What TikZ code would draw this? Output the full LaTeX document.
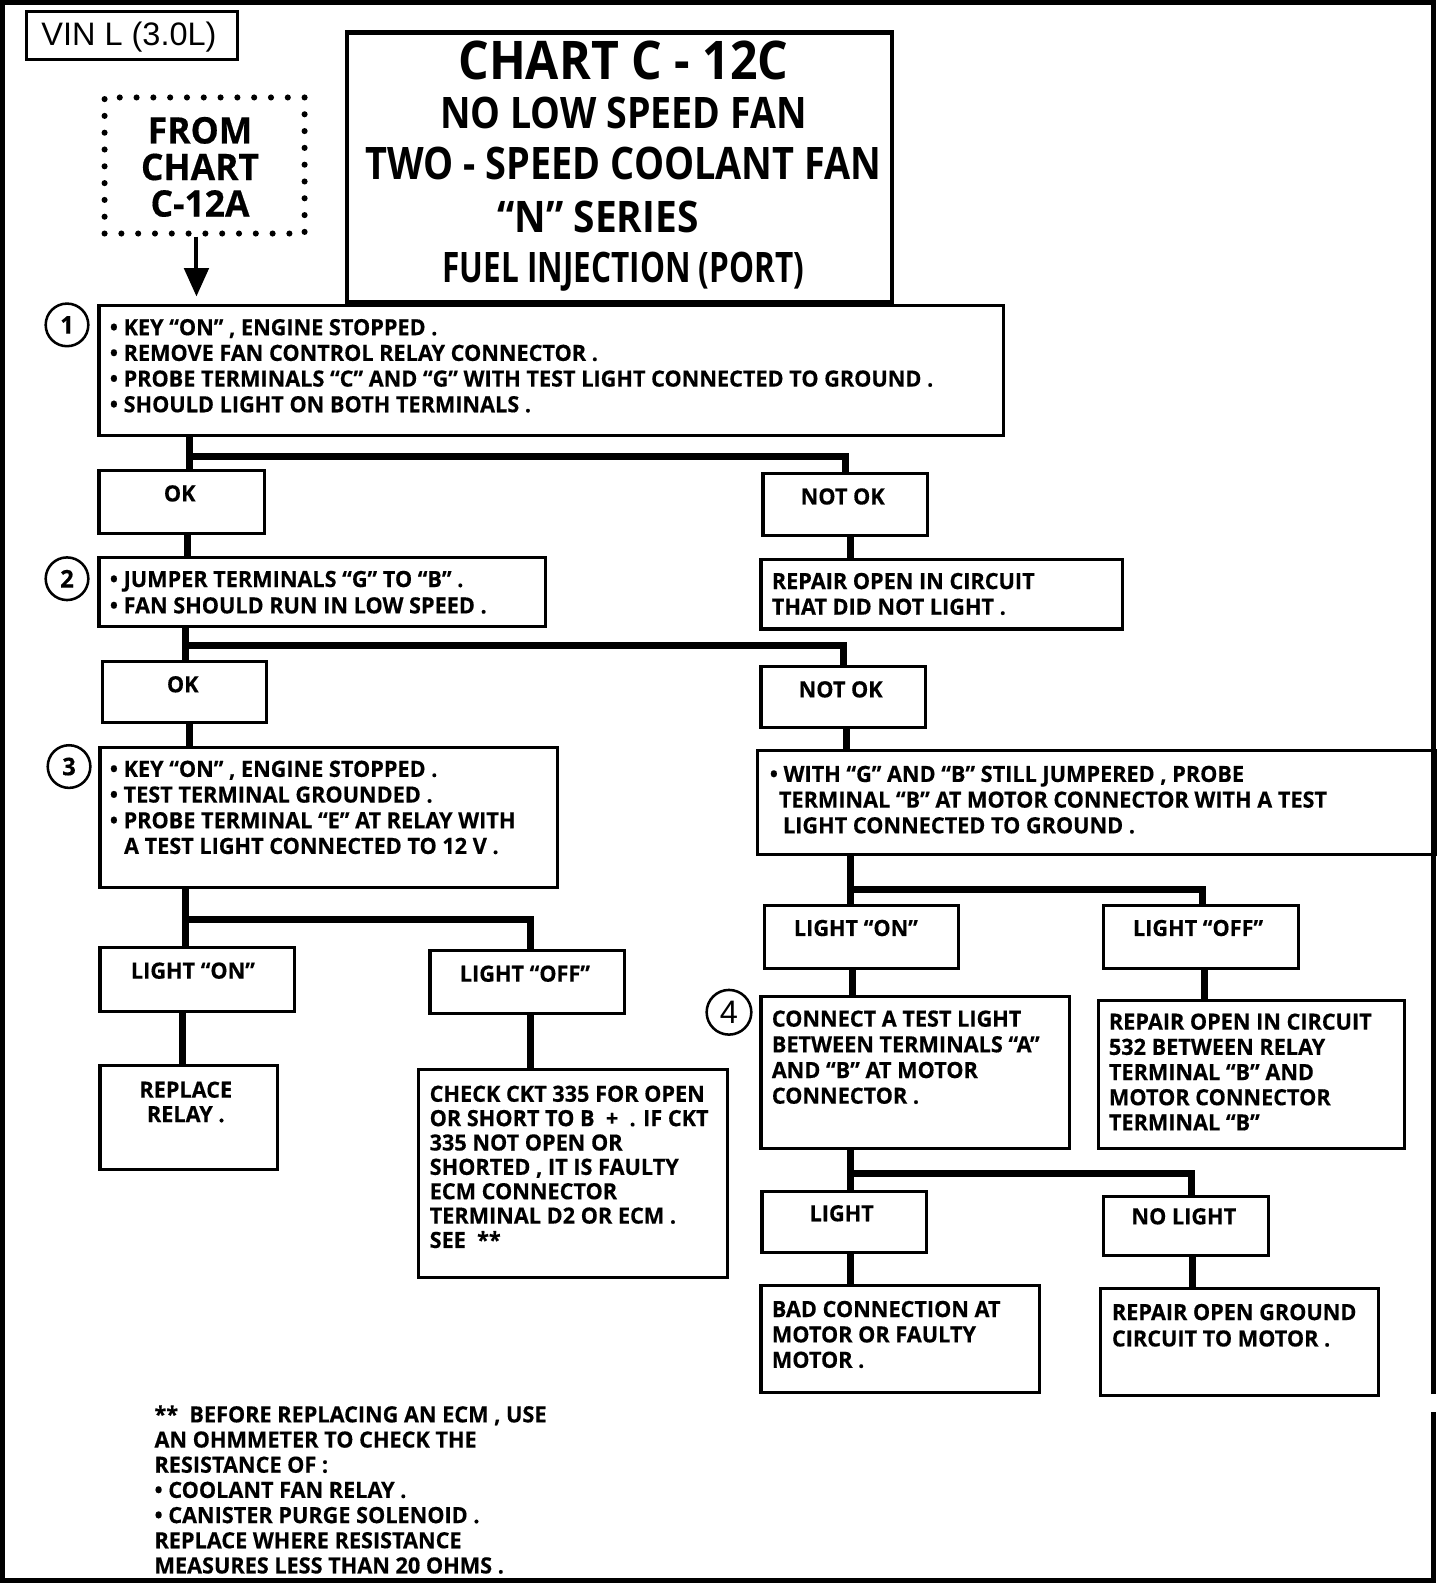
\documentclass[tikz,border=0pt]{standalone}
\usepackage{fontspec}
\setmainfont{Open Sans}
\newfontfamily\bxf{Open Sans}[FakeStretch=0.97,BoldFeatures={FakeBold=0.4}]
\newfontfamily\ttlf{Open Sans}
\newfontfamily\vinf{Liberation Sans}
\usetikzlibrary{calc,arrows.meta}
\newcommand\mybox[6][]{\node[box,#1,minimum width={#5-#3},minimum height={#6-#4}] (#2) at (#3,#4) {};}
\begin{document}
\begin{tikzpicture}[x=1pt,y=-1pt,
 box/.style={draw,line width=3pt,inner sep=0pt,anchor=north west},
 conn/.style={line width=7pt,line join=miter},
 txt/.style={inner sep=0pt,anchor=north west,align=left,font=\bxf\bfseries\fontsize{22}{25.3}\selectfont},
 lbl/.style={inner sep=0pt,font=\bxf\bfseries\fontsize{22}{25}\selectfont},
 circ/.style={draw,circle,line width=2.5pt,minimum size=42pt,inner sep=0pt,font=\bxf\bfseries\fontsize{24}{24}\selectfont},
 ttl/.style={inner sep=0pt,anchor=base,font=\ttlf\bfseries}]
\useasboundingbox (0,0) rectangle (1434,1568);
% outer frame
\draw[line width=5pt,line join=miter] (1412,1373) -- (1412,2) -- (2,2) -- (2,1557) -- (1412,1557) -- (1412,1391);

% VIN box
\mybox{vin}{25}{10}{232}{57}
\node[inner sep=0pt,anchor=base,font=\vinf\fontsize{32}{32}\selectfont] (vint) at (127,45) {VIN L (3.0L)};

% FROM box
\node[draw,line width=6pt,dash pattern=on 0pt off 16.55pt,line cap=round,inner sep=0pt,
      minimum width=197pt,minimum height=134pt,anchor=north west] (from) at (100,93) {};
\node[inner sep=0pt,anchor=north,align=center,font=\bxf\bfseries\fontsize{36}{36}\selectfont] (fromt) at (197,115) {FROM\\CHART\\C-12A};

% title box
\mybox[line width=4pt]{title}{340}{30}{877}{295}
\node[ttl] (tl1) at (614,78) {\resizebox{325pt}{38pt}{CHART C - 12C}};
\node[ttl] (tl2) at (614,127) {\resizebox{361pt}{31pt}{NO LOW SPEED FAN}};
\node[ttl] (tl3) at (614,177) {\resizebox{508pt}{32pt}{TWO - SPEED COOLANT FAN}};
\node[ttl] (tl4) at (589,229) {\resizebox{198pt}{31pt}{“N” SERIES}};
\node[ttl] (tl5) at (614,278) {\resizebox{356pt}{30pt}{FUEL INJECTION (PORT)}};

% boxes
\mybox{b1}{96}{299}{987}{427}
\mybox{ok1}{96}{462}{259}{524}
\mybox{nok1}{750}{465}{912}{526}
\mybox{b2}{96}{548}{536}{616}
\mybox{rep1}{748}{550}{1104}{618}
\mybox{ok2}{99}{650}{261}{710}
\mybox{nok2}{748}{655}{910}{715}
\mybox{b3}{97}{735}{548}{873}
\mybox{bR}{745}{738}{1412}{840}
\mybox{lon1}{97}{932}{289}{995}
\mybox{loff1}{422}{935}{614}{997}
\mybox{relay}{97}{1048}{272}{1150}
\mybox{ckt}{411}{1052}{715}{1257}
\mybox{lon2}{751}{890}{943}{952}
\mybox{loff2}{1085}{890}{1277}{952}
\mybox{con4}{748}{980}{1052}{1130}
\mybox{rep532}{1080}{984}{1382}{1130}
\mybox{light}{749}{1172}{911}{1232}
\mybox{nolight}{1085}{1177}{1248}{1235}
\mybox{bad}{748}{1265}{1022}{1370}
\mybox{repg}{1082}{1268}{1356}{1373}

% step circles
\node[circ] (c1) at (66,320) {1};
\node[circ] (c2) at (66,570) {2};
\node[circ] (c3) at (68,755) {3};
\node[circ,minimum size=44pt,font=\vinf\fontsize{32}{32}\selectfont] (c4) at (718,997) {4};

% arrow from FROM box
\coordinate (ah) at ($(from.south)+(-8,0)$);
\draw[line width=4pt,-{Triangle[length=28pt,width=24pt]}] (ah) -- ($(ah |- b1.north)+(0,-7)$);

% texts
\node[txt] (b1t) at (108,314) {• KEY “ON” , ENGINE STOPPED .\\• REMOVE FAN CONTROL RELAY CONNECTOR .\\• PROBE TERMINALS “C” AND “G” WITH TEST LIGHT CONNECTED TO GROUND .\\• SHOULD LIGHT ON BOTH TERMINALS .};
\node[lbl] (ok1t) at (177,486) {OK};
\node[lbl] (nok1t) at (830,489) {NOT OK};
\node[txt,font=\bxf\bfseries\fontsize{22}{26}\selectfont] (b2t) at (108,562) {• JUMPER TERMINALS “G” TO “B” .\\• FAN SHOULD RUN IN LOW SPEED .};
\node[txt] (rep1t) at (760,564) {REPAIR OPEN IN CIRCUIT\\THAT DID NOT LIGHT .};
\node[lbl] (ok2t) at (180,674) {OK};
\node[lbl] (nok2t) at (828,679) {NOT OK};
\node[txt] (b3t) at (108,749) {• KEY “ON” , ENGINE STOPPED .\\• TEST TERMINAL GROUNDED .\\• PROBE TERMINAL “E” AT RELAY WITH\\\hspace*{14pt}A TEST LIGHT CONNECTED TO 12 V .};
\node[txt] (bRt) at (758,754) {• WITH “G” AND “B” STILL JUMPERED , PROBE\\\hspace*{9pt}TERMINAL “B” AT MOTOR CONNECTOR WITH A TEST\\\hspace*{13pt}LIGHT CONNECTED TO GROUND .};
\node[lbl] (lon1t) at (190,956) {LIGHT “ON”};
\node[lbl] (loff1t) at (517,959) {LIGHT “OFF”};
\node[txt,anchor=north,align=center,font=\bxf\bfseries\fontsize{22}{24}\selectfont] (relayt) at (183,1065) {REPLACE\\RELAY .};
\node[txt,font=\bxf\bfseries\fontsize{22}{24}\selectfont] (cktt) at (423,1069) {CHECK CKT 335 FOR OPEN\\OR SHORT TO B\ \ +\ \ . IF CKT\\335 NOT OPEN OR\\SHORTED , IT IS FAULTY\\ECM CONNECTOR\\TERMINAL D2 OR ECM .\\SEE\ \ **};
\node[lbl] (lon2t) at (843,914) {LIGHT “ON”};
\node[lbl] (loff2t) at (1180,914) {LIGHT “OFF”};
\node[txt] (con4t) at (760,995) {CONNECT A TEST LIGHT\\BETWEEN TERMINALS “A”\\AND “B” AT MOTOR\\CONNECTOR .};
\node[txt,font=\bxf\bfseries\fontsize{22}{24.8}\selectfont] (rep532t) at (1092,998) {REPAIR OPEN IN CIRCUIT\\532 BETWEEN RELAY\\TERMINAL “B” AND\\MOTOR CONNECTOR\\TERMINAL “B”};
\node[lbl] (lightt) at (829,1195) {LIGHT};
\node[lbl] (nolightt) at (1166,1198) {NO LIGHT};
\node[txt,font=\bxf\bfseries\fontsize{22}{25}\selectfont] (badt) at (760,1281) {BAD CONNECTION AT\\MOTOR OR FAULTY\\MOTOR .};
\node[txt,font=\bxf\bfseries\fontsize{22}{26}\selectfont] (repgt) at (1095,1284) {REPAIR OPEN GROUND\\CIRCUIT TO MOTOR .};
\node[txt,font=\bxf\bfseries\fontsize{22}{24.8}\selectfont] (foot) at (152,1384) {**\ \ BEFORE REPLACING AN ECM , USE\\AN OHMMETER TO CHECK THE\\RESISTANCE OF :\\• COOLANT FAN RELAY .\\• CANISTER PURGE SOLENOID .\\REPLACE WHERE RESISTANCE\\MEASURES LESS THAN 20 OHMS .};

% connectors
\coordinate (t1) at ($(ok1.north)+(7.5,0)$);
\draw[conn] (t1 |- b1.south) -- (t1);
\draw[conn] ($(t1 |- b1.south)+(0,20)$) -| (nok1.north);
\coordinate (t2) at ($(ok1.south)+(5.5,0)$);
\draw[conn] (t2) -- (t2 |- b2.north);
\coordinate (t3) at ($(nok1.south)+(5,0)$);
\draw[conn] (t3) -- (t3 |- rep1.north);

\coordinate (t4) at ($(ok2.north)+(1,0)$);
\draw[conn] (t4 |- b2.south) -- (t4);
\draw[conn] ($(t4 |- b2.south)+(0,17)$) -| (nok2.north);
\coordinate (t5) at ($(ok2.south)+(5,0)$);
\draw[conn] (t5) -- (t5 |- b3.north);
\coordinate (t6) at ($(nok2.south)+(3,0)$);
\draw[conn] (t6) -- (t6 |- bR.north);

\coordinate (t7) at ($(lon1.north)+(-12,0)$);
\draw[conn] (t7 |- b3.south) -- (t7);
\draw[conn] ($(t7 |- b3.south)+(0,30)$) -| ($(loff1.north)+(3,0)$);
\coordinate (t8) at ($(lon1.south)+(-15,0)$);
\draw[conn] (t8) -- (t8 |- relay.north);
\coordinate (t9) at ($(loff1.south)+(3,0)$);
\draw[conn] (t9) -- (t9 |- ckt.north);

\coordinate (t10) at ($(lon2.north)+(-11,0)$);
\draw[conn] (t10 |- bR.south) -- (t10);
\draw[conn] ($(t10 |- bR.south)+(0,33)$) -| ($(loff2.north)+(2,0)$);
\coordinate (t11) at ($(lon2.south)+(-9,0)$);
\draw[conn] (t11) -- (t11 |- con4.north);
\coordinate (t12) at ($(loff2.south)+(4,0)$);
\draw[conn] (t12) -- (t12 |- rep532.north);

\coordinate (t13) at ($(light.north)+(6,0)$);
\draw[conn] (t13 |- con4.south) -- (t13);
\draw[conn] ($(t13 |- con4.south)+(0,23)$) -| ($(nolight.north)+(5.5,0)$);
\coordinate (t14) at ($(light.south)+(6,0)$);
\draw[conn] (t14) -- (t14 |- bad.north);
\coordinate (t15) at ($(nolight.south)+(6.5,0)$);
\draw[conn] (t15) -- (t15 |- repg.north);
\end{tikzpicture}
\end{document}
